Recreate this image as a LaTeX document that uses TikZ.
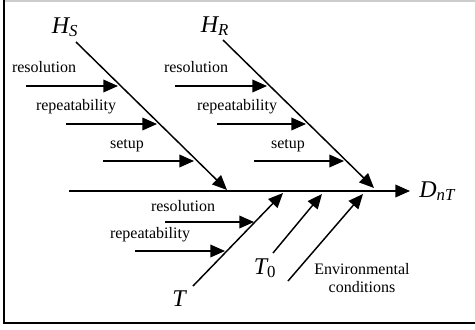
\documentclass[tikz,border=0pt]{standalone}
\usepackage{fontspec}
\setmainfont{Liberation Serif}
\usetikzlibrary{arrows.meta}

\begin{document}
\begin{tikzpicture}[x=0.75pt,y=-0.75pt,
	arr/.style={line width=1.1pt,-{Triangle[length=11pt,width=9.5pt]}},
	lbl/.style={inner sep=0pt,font=\fontsize{12}{13.5}\selectfont},
	var/.style={inner sep=0pt,font=\fontsize{18}{20}\selectfont\itshape}]
	\useasboundingbox (0,0) rectangle (475,329);
	\draw[black!20,line width=0.8pt] (4,1) -- (475,1);
	\draw[line width=1.5pt] (4,0) -- (4,323) -- (475,323);

	\node[var] (hs) at (65,27) {H\textsubscript{S}};
	\node[var] (hr) at (215,26) {H\textsubscript{R}};
	\node[var,anchor=base west] (dnt) at (419,197) {D\textsubscript{nT}};
	\node[var] (t) at (179,299) {T};
	\node[var] (tzero) at (265,268) {T\textsubscript{\upshape 0}};
	\node[lbl,align=center] (env) at (362,278) {Environmental\\conditions};

	\node[lbl] (hsres) at (44,67) {resolution};
	\node[lbl] (hsrep) at (76,107) {repeatability};
	\node[lbl] (hsset) at (127,146) {setup};
	\node[lbl] (hrres) at (196,67) {resolution};
	\node[lbl] (hrrep) at (237,107) {repeatability};
	\node[lbl] (hrset) at (288,146) {setup};
	\node[lbl] (tres) at (183,206) {resolution};
	\node[lbl] (trep) at (150,235) {repeatability};

	\coordinate (sp0) at (69,191);
	\coordinate (sp1) at (410,191);
	\coordinate (hs0) at (76,42);
	\coordinate (hs1) at (227,190);
	\coordinate (hr0) at (223,40);
	\coordinate (hr1) at (374,188);
	\coordinate (t0) at (193,286);
	\coordinate (t1) at (283,193);
	\coordinate (tz0) at (273,253);
	\coordinate (tz1) at (322,194);
	\coordinate (en0) at (288,281);
	\coordinate (en1) at (363,194);

	\coordinate (hsres0) at (26,86);
	\coordinate (hsres1) at (118,86);
	\coordinate (hsrep0) at (66,124);
	\coordinate (hsrep1) at (157,124);
	\coordinate (hsset0) at (103,161);
	\coordinate (hsset1) at (194,161);
	\coordinate (hrres0) at (175,86);
	\coordinate (hrres1) at (267,86);
	\coordinate (hrrep0) at (217,124);
	\coordinate (hrrep1) at (306,124);
	\coordinate (hrset0) at (254,161);
	\coordinate (hrset1) at (344,161);
	\coordinate (tres0) at (165,222);
	\coordinate (tres1) at (254,222);
	\coordinate (trep0) at (135,251);
	\coordinate (trep1) at (225,251);

	\path [arr]
	(sp0) edge (sp1)
	(hs0) edge (hs1)
	(hr0) edge (hr1)
	(t0) edge (t1)
	(tz0) edge (tz1)
	(en0) edge (en1)
	(hsres0) edge (hsres1)
	(hsrep0) edge (hsrep1)
	(hsset0) edge (hsset1)
	(hrres0) edge (hrres1)
	(hrrep0) edge (hrrep1)
	(hrset0) edge (hrset1)
	(tres0) edge (tres1)
	(trep0) edge (trep1);
\end{tikzpicture}
\end{document}
